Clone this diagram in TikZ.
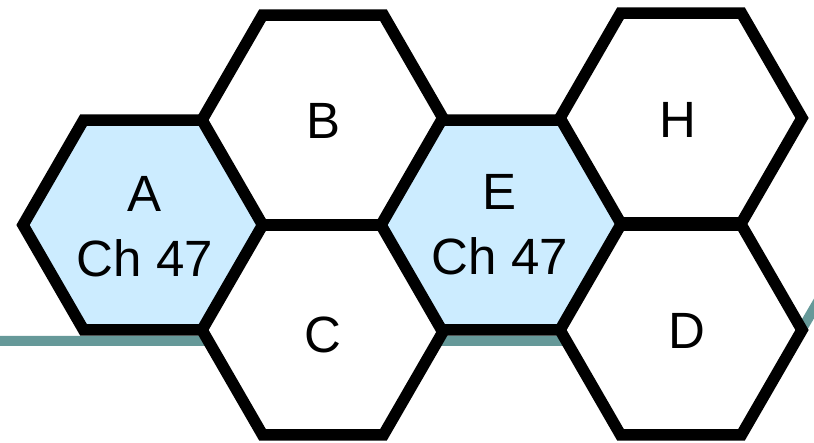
\documentclass[tikz,border=0pt]{standalone}
\usepackage{fontspec}
\setmainfont{Liberation Sans}
\definecolor{hexblue}{RGB}{204,236,255}
\definecolor{railteal}{RGB}{102,153,153}
\begin{document}
\begin{tikzpicture}[x=1pt,y=-1pt,
  hexline/.style={line width=11.5pt, line join=miter, draw=black},
  lab/.style={font=\fontsize{51}{65}\selectfont, align=center, inner sep=0pt},
  rail/.style={railteal, line width=10pt}]
\useasboundingbox (0,0) rectangle (814,443);
\coordinate (r0) at (-10,341);
\coordinate (r1) at (795,341);
\coordinate (r2) at (830,281);
\draw[rail] (r0) -- (r1) -- (r2);
\foreach \x/\y/\f in {144/225/hexblue, 323/120/white, 323/330/white, 502/225/hexblue, 681/118/white, 681/330/white}{
  \draw[hexline, fill=\f] (\x,\y) ++(121,0) -- ++(-60.5,104.8) -- ++(-121,0) -- ++(-60.5,-104.8) -- ++(60.5,-104.8) -- ++(121,0) -- cycle;
}
\node[lab] (A) at (145,227) {A\\Ch 47};
\node[lab] (B) at (324,121) {B};
\node[lab] (C) at (323,335) {C};
\node[lab] (E) at (500,225) {E\\Ch 47};
\node[lab] (H) at (678,120) {H};
\node[lab] (D) at (687,331) {D};
\end{tikzpicture}
\end{document}
